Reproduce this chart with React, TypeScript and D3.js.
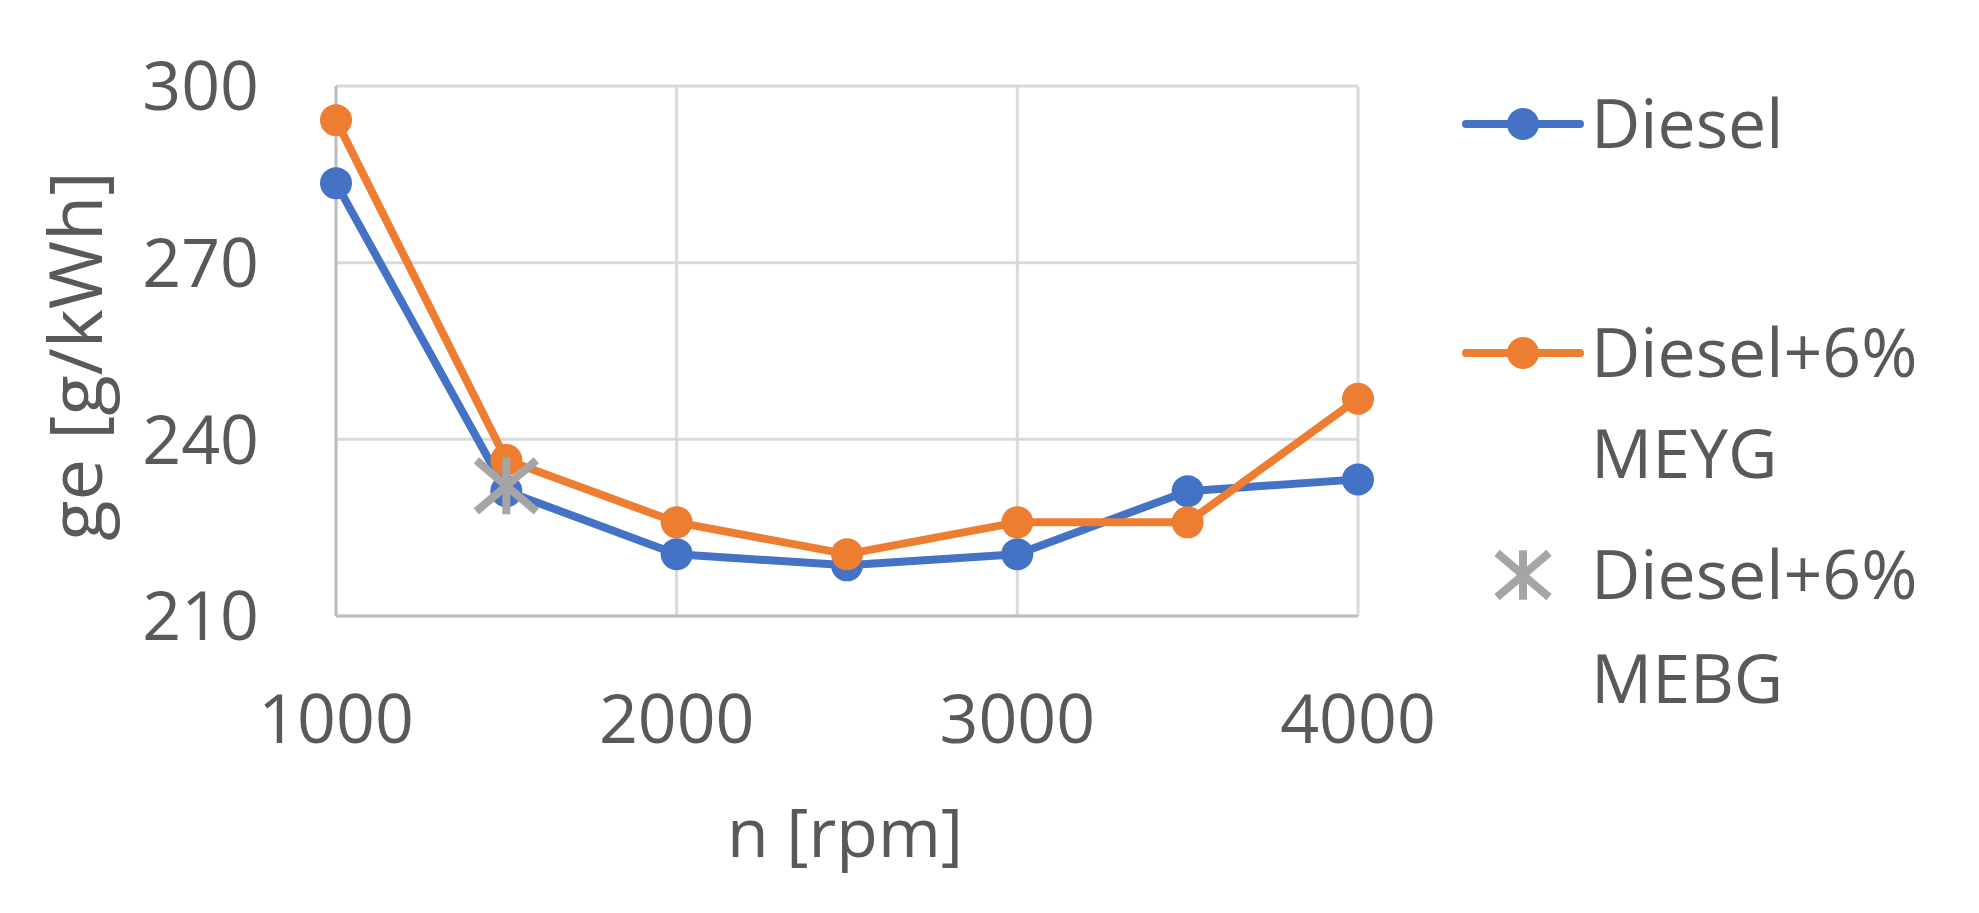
import React from "react";
import * as d3 from "d3";

const rpm = [1000, 1500, 2000, 2500, 3000, 3500, 4000];
const diesel = [283.5, 231.2, 220.5, 218.6, 220.5, 231.2, 233.2];
const meyg = [294.2, 236.5, 225.9, 220.5, 225.9, 225.9, 246.9];
const mebgRpm = [1500];
const mebg = [232.1];
const yTicks = [210, 240, 270, 300];
const xTicks = [1000, 2000, 3000, 4000];
const xGrid = [1000, 2000, 3000, 4000];

const BLUE = "#4472C4";
const ORANGE = "#ED7D31";
const GRAY = "#A5A5A5";
const TEXT = "#595959";
const FONT = "'Open Sans', 'Segoe UI', sans-serif";

const W = 1979;
const H = 913;
const L = 336, R = 1358, T = 86, B = 616;

export default function App() {
  const x = d3.scaleLinear().domain([1000, 4000]).range([L, R]);
  const y = d3.scaleLinear().domain([210, 300]).range([B, T]);
  const line = d3
    .line<[number, number]>()
    .x((d) => x(d[0]))
    .y((d) => y(d[1]));
  const dPts = rpm.map((r, i) => [r, diesel[i]] as [number, number]);
  const oPts = rpm.map((r, i) => [r, meyg[i]] as [number, number]);
  const gPts = mebgRpm.map((r, i) => [r, mebg[i]] as [number, number]);

  const star = (cx: number, cy: number, s: number, sw: number, key: string) => (
    <g key={key} stroke={GRAY} strokeWidth={sw}>
      <line x1={cx - s} y1={cy - s * 0.85} x2={cx + s} y2={cy + s * 0.85} />
      <line x1={cx - s} y1={cy + s * 0.85} x2={cx + s} y2={cy - s * 0.85} />
      <line x1={cx} y1={cy - s * 0.95} x2={cx} y2={cy + s * 0.95} />
    </g>
  );

  return (
    <svg
      width={W}
      height={H}
      style={{ position: "absolute", left: 0, top: 0, background: "#fff" }}
      fontFamily={FONT}
    >
      <rect x={0} y={0} width={W} height={H} fill="#fff" />
      {/* grid */}
      {yTicks.map((t) => (
        <line key={"gy" + t} x1={L} x2={R} y1={y(t)} y2={y(t)} stroke="#d9d9d9" strokeWidth={3} />
      ))}
      {xGrid.map((t) => (
        <line key={"gx" + t} x1={x(t)} x2={x(t)} y1={T} y2={B} stroke="#d9d9d9" strokeWidth={3} />
      ))}
      {/* axes */}
      <line x1={L} x2={L} y1={T} y2={B} stroke="#bfbfbf" strokeWidth={3} />
      <line x1={L} x2={R} y1={B} y2={B} stroke="#bfbfbf" strokeWidth={3} />
      {/* y tick labels */}
      {yTicks.map((t) => (
        <text key={"ty" + t} x={259} y={y(t)} dy="0.36em" textAnchor="end" fontSize={68} fill={TEXT}>
          {t}
        </text>
      ))}
      {xTicks.map((t) => (
        <text key={"tx" + t} x={x(t)} y={743} textAnchor="middle" fontSize={68} fill={TEXT}>
          {t}
        </text>
      ))}
      <text x={845} y={857} textAnchor="middle" fontSize={68} fill={TEXT}>
        n [rpm]
      </text>
      <text
        transform={`translate(102,356) rotate(-90)`}
        textAnchor="middle"
        fontSize={74}
        fill={TEXT}
      >
        ge [g/kWh]
      </text>
      {/* series */}
      <path d={line(dPts) || ""} fill="none" stroke={BLUE} strokeWidth={8} strokeLinejoin="round" />
      {dPts.map((p, i) => (
        <circle key={"db" + i} cx={x(p[0])} cy={y(p[1])} r={16} fill={BLUE} />
      ))}
      <path d={line(oPts) || ""} fill="none" stroke={ORANGE} strokeWidth={8} strokeLinejoin="round" />
      {oPts.map((p, i) => (
        <circle key={"oc" + i} cx={x(p[0])} cy={y(p[1])} r={16} fill={ORANGE} />
      ))}
      {gPts.map((p, i) => star(x(p[0]), y(p[1]), 30, 8, "gs" + i))}
      {/* legend */}
      <line x1={1466} x2={1580} y1={124} y2={124} stroke={BLUE} strokeWidth={8} strokeLinecap="round" />
      <circle cx={1523} cy={124} r={16} fill={BLUE} />
      <text x={1591} y={124} dy="0.36em" fontSize={68} fill={TEXT}>Diesel</text>

      <line x1={1466} x2={1580} y1={353} y2={353} stroke={ORANGE} strokeWidth={8} strokeLinecap="round" />
      <circle cx={1523} cy={353} r={16} fill={ORANGE} />
      <text x={1591} y={353} dy="0.36em" fontSize={68} fill={TEXT}>Diesel+6%</text>
      <text x={1591} y={454} dy="0.36em" fontSize={68} fill={TEXT}>MEYG</text>

      {star(1523, 575, 26, 8, "ls")}
      <text x={1591} y={575} dy="0.36em" fontSize={68} fill={TEXT}>Diesel+6%</text>
      <text x={1591} y={679} dy="0.36em" fontSize={68} fill={TEXT}>MEBG</text>
    </svg>
  );
}
